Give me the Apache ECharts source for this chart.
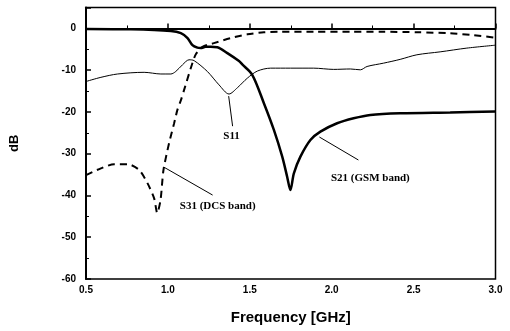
<!DOCTYPE html>
<html><head><meta charset="utf-8">
<script src="https://cdn.jsdelivr.net/npm/echarts@6/dist/echarts.min.js"></script>
<style>html,body{margin:0;padding:0;background:#fff}#c{width:510px;height:331px}</style>
</head><body><div id="c"></div>
<script>
// S21 (GSM band) - thick solid
var s21Freq = [0.5,0.774,1.018,1.079,1.12,1.15,1.18,1.20,1.23,1.261,1.302,1.363,1.434,1.454,1.515,1.586,1.647,1.698,1.728,1.748,1.769,1.809,1.870,1.931,2.033,2.134,2.236,2.418,2.723,3.0];
var s21Db   = [-0.1,-0.2,-0.6,-1.1,-2.3,-4.0,-4.6,-4.7,-4.4,-4.4,-4.5,-5.9,-7.8,-8.6,-11.1,-17.9,-24.3,-30.7,-35.5,-38.7,-34.7,-30.7,-26.7,-24.7,-22.7,-21.5,-20.7,-20.3,-20.1,-19.9];
// S11 - thin solid
var s11Freq = [0.5,0.591,0.693,0.855,0.957,1.018,1.048,1.089,1.129,1.160,1.241,1.312,1.373,1.424,1.485,1.546,1.627,1.748,1.890,2.012,2.114,2.175,2.216,2.317,2.418,2.520,2.662,2.825,3.0];
var s11Db   = [-12.7,-11.7,-10.9,-10.5,-10.9,-10.9,-10.3,-8.7,-7.5,-7.7,-10.3,-13.5,-15.7,-14.2,-11.9,-10.2,-9.5,-9.5,-9.5,-9.8,-9.7,-9.9,-9.1,-8.3,-7.4,-6.3,-5.6,-4.7,-4.0];
// S31 (DCS band) - dashed
var s31Freq = [0.5,0.591,0.672,0.754,0.825,0.876,0.916,0.935,0.955,0.973,1.007,1.038,1.058,1.080,1.099,1.139,1.170,1.211,1.281,1.383,1.485,1.586,1.688,1.890,2.114,2.317,2.520,2.723,2.865,3.0];
var s31Db   = [-35.1,-33.5,-32.5,-32.5,-33.9,-37.1,-40.7,-44.2,-41.1,-33.9,-27.5,-22.7,-19.5,-17.1,-14.7,-9.6,-6.2,-4.4,-3.5,-2.3,-1.4,-0.9,-0.8,-0.8,-0.8,-0.8,-0.9,-1.15,-1.6,-2.2];
// tick values
var xTicks = [0.5,1.0,1.5,2.0,2.5,3.0];
var yTicks = [-60,-50,-40,-30,-20,-10,0];
// annotations: [label, labelFreq, labelDb, arrowTailFreq, arrowTailDb, arrowHeadFreq, arrowHeadDb]
var annS11 = ['S11', 1.389, -25.7, 1.395, -23.4, 1.371, -16.2];
var annS21 = ['S21 (GSM band)', 2.236, -35.8, 2.163, -31.5, 1.925, -26.0];
var annS31 = ['S31 (DCS band)', 1.304, -42.5, 1.273, -39.9, 0.975, -33.2];

function pairs(xs, ys){ return xs.map(function(x,i){ return [x, ys[i]]; }); }
function ann(a){
  return {
    markLine: {
      silent: true, symbol: ['none','arrow'], symbolSize: [0, 6],
      lineStyle: {color:'#000', width:1, type:'solid'}, label:{show:false},
      data: [[{coord:[a[3],a[4]]},{coord:[a[5],a[6]]}]]
    },
    markPoint: {
      silent: true, symbol: 'circle', symbolSize: 0,
      label: {show:true, position:'inside', formatter:a[0], color:'#000',
        fontFamily:'Liberation Serif', fontWeight:'bold', fontSize:11},
      data: [{coord:[a[1],a[2]]}]
    }
  };
}
var chart = echarts.init(document.getElementById('c'), null, {renderer:'canvas'});
var axisFont = {fontFamily:'Liberation Sans', fontWeight:'bold', fontSize:10, color:'#000'};
var s11 = Object.assign({type:'line', name:'S11', data:pairs(s11Freq,s11Db), showSymbol:false, smooth:0.3,
  lineStyle:{color:'#000', width:1}}, ann(annS11));
var s21 = Object.assign({type:'line', name:'S21', data:pairs(s21Freq,s21Db), showSymbol:false, smooth:0.3,
  lineStyle:{color:'#000', width:2.5}}, ann(annS21));
var s31 = Object.assign({type:'line', name:'S31', data:pairs(s31Freq,s31Db), showSymbol:false, smooth:0.25,
  lineStyle:{color:'#000', width:2, type:[7,5]}}, ann(annS31));
chart.setOption({
  animation:false,
  backgroundColor:'#fff',
  grid:{left:85, right:14.5, top:7.6, bottom:52, show:true, borderColor:'#000', borderWidth:1.5},
  xAxis:{type:'value', min:xTicks[0], max:xTicks[xTicks.length-1], interval:0.5,
    name:'Frequency [GHz]', nameLocation:'middle', nameGap:31,
    nameTextStyle:{fontFamily:'Liberation Sans', fontWeight:'bold', fontSize:15, color:'#000'},
    axisLine:{lineStyle:{color:'#000', width:2}},
    axisTick:{inside:true, length:5, lineStyle:{color:'#000', width:1.5}},
    minorTick:{show:true, splitNumber:2, length:3, lineStyle:{color:'#000'}},
    splitLine:{show:false},
    axisLabel:Object.assign({margin:6, formatter:function(v){return v.toFixed(1);}}, axisFont)},
  yAxis:{type:'value', min:yTicks[0], max:5, interval:10,
    name:'dB', nameLocation:'middle', nameGap:65, nameRotate:90,
    nameTextStyle:{fontFamily:'Liberation Sans', fontWeight:'bold', fontSize:13, color:'#000'},
    axisLine:{lineStyle:{color:'#000', width:2}},
    axisTick:{inside:true, length:5, lineStyle:{color:'#000', width:1.5}},
    minorTick:{show:true, splitNumber:2, length:3, lineStyle:{color:'#000'}},
    splitLine:{show:false},
    axisLabel:Object.assign({margin:10, formatter:function(v){return v>0?'':String(v);}}, axisFont)},
  series:[s31, s11, s21]
});
</script></body></html>
